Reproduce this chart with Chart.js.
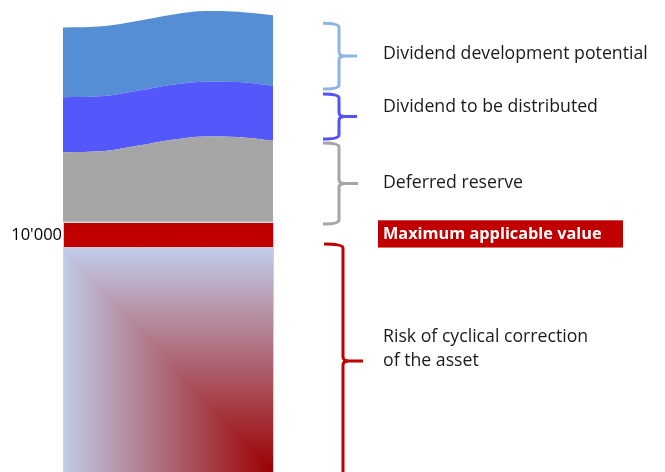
<!DOCTYPE html>
<html>
<head>
<meta charset="utf-8">
<script src="https://cdn.jsdelivr.net/npm/chart.js@4.4.1/dist/chart.umd.min.js"></script>
<style>
  html, body { margin: 0; padding: 0; background: #fff; }
  #wrap { width: 665px; height: 472px; }
</style>
</head>
<body>
<div id="wrap"><canvas id="valueChart"></canvas></div>
<script>
// position along the column, 0 = left edge, 1 = right edge
var xPos = [0, 0.2, 0.36, 0.52, 0.68, 0.83, 1];

// upper edge of every layer, bottom to top
var riskTop      = [9460, 9460, 9460, 9460, 9460, 9460, 9460];
var maxValueTop  = [10530, 10530, 10530, 10530, 10530, 10530, 10530];
var reserveTop   = [13500, 13550, 13780, 14030, 14170, 14150, 13990];
var dividendTop  = [15830, 15880, 16110, 16360, 16490, 16480, 16320];
var potentialTop = [18780, 18850, 19070, 19330, 19480, 19450, 19300];

var yTicks = [10000];
var tickLabels = ["10'000"];

// span covered by each brace on the right [from, to]
var braceRanges = [[18970, 16180], [15970, 14060], [13890, 10460], [9610, -300]];
var braceLabels = [
    ["Dividend development potential"],
    ["Dividend to be distributed"],
    ["Deferred reserve"],
    ["Risk of cyclical correction", "of the asset"]
];
var maxLabel = "Maximum applicable value";

function pts(arr) {
    return arr.map(function (v, i) { return { x: xPos[i], y: v }; });
}

// corner gradient: light blue at top/left, dark red towards bottom right
var patternCache = null;
function riskFill(context) {
    var chart = context.chart;
    var area = chart.chartArea;
    if (!area) return '#c1cbe8';
    var top = Math.round(chart.scales.y.getPixelForValue(riskTop[0]));
    var key = chart.width + 'x' + chart.height + ':' + top;
    if (patternCache && patternCache.key === key) return patternCache.pattern;

    var off = document.createElement('canvas');
    off.width = chart.width;
    off.height = chart.height;
    var octx = off.getContext('2d');
    var img = octx.createImageData(off.width, off.height);
    var c0 = [193, 204, 232], c1 = [155, 0, 0];
    var w = area.right - area.left, h = area.bottom - top;
    for (var py = top; py < off.height; py++) {
        for (var px = Math.floor(area.left); px < Math.ceil(area.right); px++) {
            var u = (px - area.left) / w, v = (py - top) / h;
            var t = Math.max(0, Math.min(1, Math.min(u, v)));
            var k = (py * off.width + px) * 4;
            img.data[k]     = c0[0] + (c1[0] - c0[0]) * t;
            img.data[k + 1] = c0[1] + (c1[1] - c0[1]) * t;
            img.data[k + 2] = c0[2] + (c1[2] - c0[2]) * t;
            img.data[k + 3] = 255;
        }
    }
    octx.putImageData(img, 0, 0);
    patternCache = { key: key, pattern: chart.ctx.createPattern(off, 'no-repeat') };
    return patternCache.pattern;
}

var bracePlugin = {
    id: 'braces',
    afterDraw: function (chart, args, opts) {
        var ctx = chart.ctx, area = chart.chartArea, y = chart.scales.y;
        ctx.save();

        // thin outline down the sides of the lower block
        var blockTop = y.getPixelForValue(maxValueTop[0]);
        ctx.strokeStyle = '#d0d0d0';
        ctx.lineWidth = 1;
        ctx.beginPath();
        ctx.moveTo(area.left + 0.5, blockTop); ctx.lineTo(area.left + 0.5, area.bottom);
        ctx.moveTo(area.right + 0.5, blockTop); ctx.lineTo(area.right + 0.5, area.bottom);
        ctx.stroke();

        // braces
        braceRanges.forEach(function (r, i) {
            var st = opts.styles[i];
            var top = y.getPixelForValue(r[0]), bot = y.getPixelForValue(r[1]);
            var mid = (top + bot) / 2, rad = 4;
            var x0 = area.right + st.hook, xv = area.right + st.stem, xt = area.right + st.tip;
            ctx.beginPath();
            ctx.moveTo(x0, top);
            ctx.quadraticCurveTo(xv, top, xv, top + rad);
            ctx.lineTo(xv, mid - rad);
            ctx.quadraticCurveTo(xv, mid, xv + 6, mid);
            ctx.lineTo(xt, mid);
            ctx.moveTo(xv + 6, mid);
            ctx.quadraticCurveTo(xv, mid, xv, mid + rad);
            ctx.lineTo(xv, bot - rad);
            ctx.quadraticCurveTo(xv, bot, x0, bot);
            ctx.strokeStyle = st.color;
            ctx.lineWidth = 3;
            ctx.stroke();
        });

        // brace labels
        ctx.fillStyle = '#1a1a1a';
        ctx.font = opts.fontSize + 'px "Open Sans"';
        ctx.textBaseline = 'middle';
        ctx.textAlign = 'left';
        braceLabels.forEach(function (lines, i) {
            lines.forEach(function (txt, j) {
                ctx.fillText(txt, area.right + opts.textOffset, y.getPixelForValue(opts.labelAt[i][j]));
            });
        });

        // red box for the maximum applicable value
        var boxTop = y.getPixelForValue(maxValueTop[0]) - 2;
        var boxBot = y.getPixelForValue(riskTop[0]);
        ctx.fillStyle = '#c00000';
        ctx.fillRect(area.right + 105, boxTop, 245, boxBot - boxTop);
        ctx.fillStyle = '#ffffff';
        ctx.font = 'bold 16.3px "Open Sans"';
        ctx.fillText(maxLabel, area.right + opts.textOffset, (boxTop + boxBot) / 2);

        ctx.restore();
    }
};

var ctx = document.getElementById('valueChart');

var chartData = {
    datasets: [{
        label: 'Risk of cyclical correction',
        data: pts(riskTop),
        fill: 'start',
        backgroundColor: riskFill,
        borderColor: '#d0d0d0',
        borderWidth: 1
    }, {
        label: 'Maximum applicable value',
        data: pts(maxValueTop),
        fill: '-1',
        backgroundColor: '#c00000',
        borderColor: '#d9d9d9',
        borderWidth: 1.5
    }, {
        label: 'Deferred reserve',
        data: pts(reserveTop),
        fill: '-1',
        backgroundColor: '#a6a6a6',
        borderWidth: 0
    }, {
        label: 'Dividend to be distributed',
        data: pts(dividendTop),
        fill: '-1',
        backgroundColor: '#5457f9',
        borderWidth: 0
    }, {
        label: 'Dividend development potential',
        data: pts(potentialTop),
        fill: '-1',
        backgroundColor: '#558ed5',
        borderWidth: 0
    }]
};

var chartOptions = {
    responsive: true,
    maintainAspectRatio: false,
    animation: false,
    layout: { padding: { left: 0, right: 392, top: 0, bottom: 0 } },
    elements: {
        point: { radius: 0, hoverRadius: 0 },
        line: { cubicInterpolationMode: 'monotone' }
    },
    scales: {
        x: { type: 'linear', min: 0, max: 1, display: false },
        y: {
            min: -50,
            max: 19950,
            grid: { display: false, drawTicks: false },
            border: { display: false },
            afterBuildTicks: function (axis) {
                axis.ticks = yTicks.map(function (v) { return { value: v }; });
            },
            afterFit: function (axis) {
                axis.width = 63;
                axis.paddingTop = 0;
                axis.paddingBottom = 0;
            },
            ticks: {
                padding: 1,
                color: '#000000',
                font: { family: 'Open Sans', size: 16.5 },
                callback: function (value, index) { return tickLabels[index]; }
            }
        }
    },
    plugins: {
        legend: { display: false },
        tooltip: { enabled: false },
        braces: {
            fontSize: 17.7,
            textOffset: 110,
            labelAt: [[17660], [15420], [12200], [5670, 4650]],
            styles: [
                { color: '#8db4e2', hook: 50, stem: 66, tip: 84 },
                { color: '#5252f5', hook: 50, stem: 66, tip: 84 },
                { color: '#a6a6a6', hook: 50, stem: 66, tip: 85 },
                { color: '#c00000', hook: 51, stem: 70, tip: 90 }
            ]
        }
    }
};

var valueChart = new Chart(ctx, {
    type: 'line',
    data: chartData,
    options: chartOptions,
    plugins: [bracePlugin]
});
</script>
</body>
</html>
